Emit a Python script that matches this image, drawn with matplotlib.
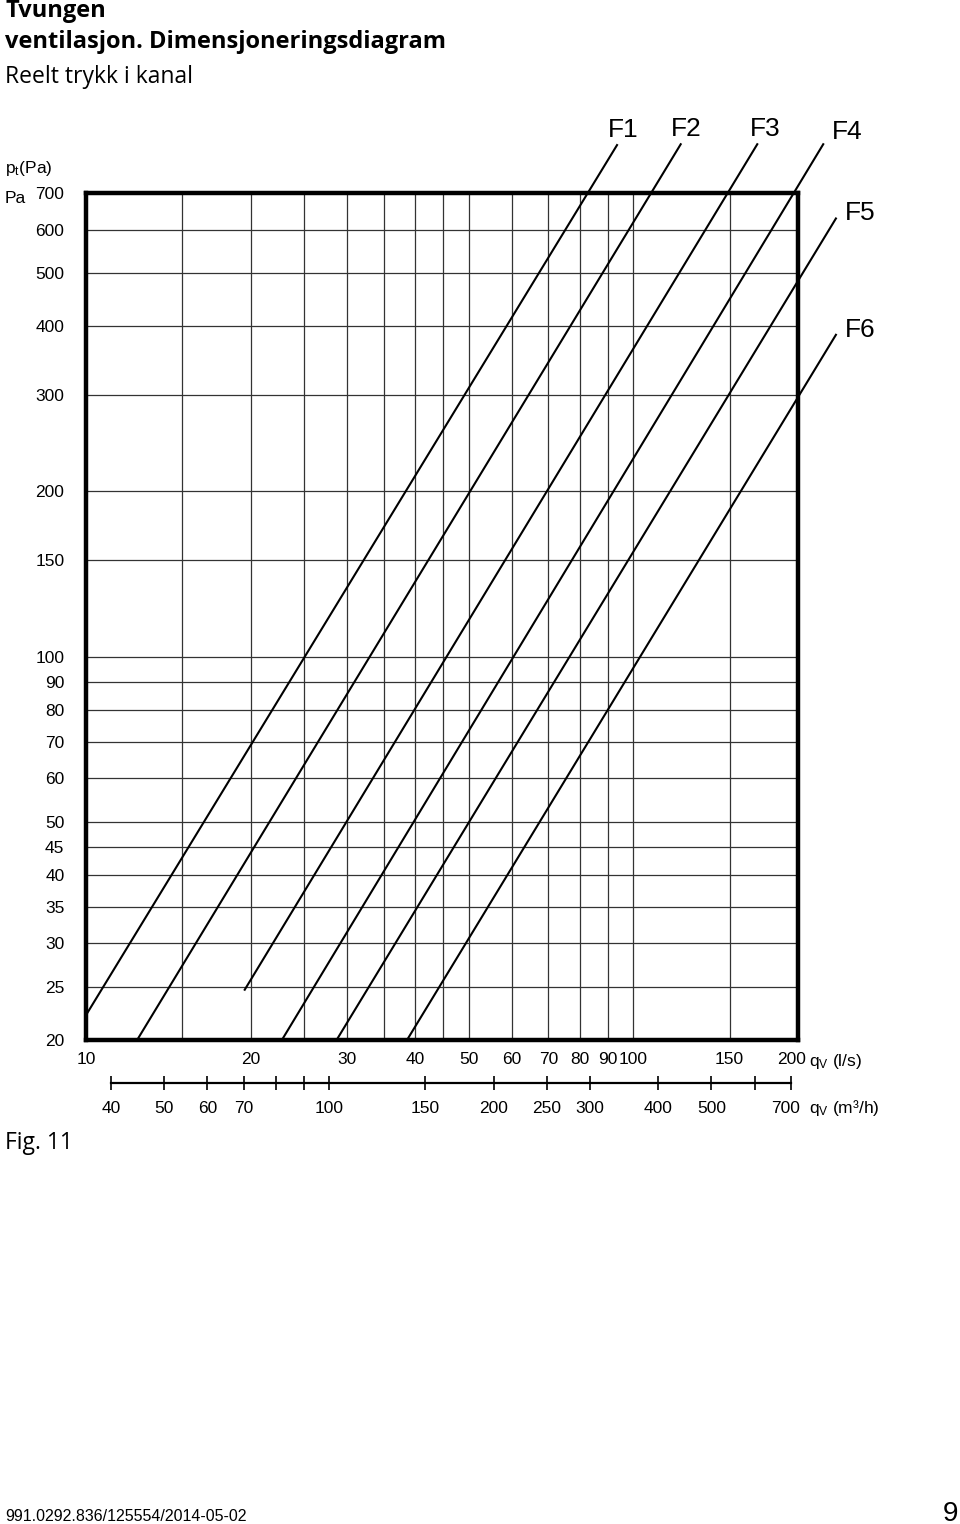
import matplotlib
matplotlib.use('Agg')
import matplotlib.pyplot as plt
from matplotlib.ticker import NullLocator
from matplotlib.transforms import ScaledTranslation

plt.rcParams['font.family'] = ['Liberation Sans', 'DejaVu Sans']
plt.rcParams['mathtext.default'] = 'regular'

# fan curves: end points (q in l/s, p in Pa)
curve_names = ['F1', 'F2', 'F3', 'F4', 'F5', 'F6']
q_start = [10.0, 12.4, 19.5, 22.8, 28.7, 38.6]
p_start = [22.2, 20.0, 24.7, 20.0, 20.0, 20.0]
q_end = [93.4, 122.1, 168.5, 222.4, 234.6, 234.6]
p_end = [856, 859, 859, 859, 629, 386]

# grid and tick values
q_grid = [15, 20, 25, 30, 35, 40, 45, 50, 60, 70, 80, 90, 100, 150]
p_grid = [25, 30, 35, 40, 45, 50, 60, 70, 80, 90, 100, 150, 200, 300, 400, 500, 600]
q_labels = [10, 20, 30, 40, 50, 60, 70, 80, 90, 100, 150, 200]
p_labels = [20, 25, 30, 35, 40, 45, 50, 60, 70, 80, 90, 100, 150, 200, 300, 400, 500, 600, 700]
m3h_ticks = [40, 50, 60, 70, 80, 90, 100, 150, 200, 250, 300, 400, 500, 600, 700]
m3h_labels = ['40', '50', '60', '70', '', '', '100', '150', '200', '250', '300', '400', '500', '', '700']

# label offsets from the upper end of each curve (pixels)
label_offsets = [(6, 15), (6, 15), (8, 15), (24, 12), (24, 5), (24, 5)]

W, H = 960, 1524
HEAD = ['Open Sans', 'DejaVu Sans']
TS = 12.5


def fx(x):
    return x / W


def fy(y):
    return 1 - y / H


fig = plt.figure(figsize=(W / 100, H / 100), dpi=100)

ax = fig.add_axes([fx(86), fy(1040), (798 - 86) / W, (1040 - 193) / H])
ax.set_xscale('log')
ax.set_yscale('log')
ax.set_xlim(10, 200)
ax.set_ylim(20, 700)

for q in q_grid:
    ax.axvline(q, color='#333333', lw=0.9, zorder=1)
for p in p_grid:
    ax.axhline(p, color='#333333', lw=0.9, zorder=1)

for name, qs, ps, qe, pe, off in zip(curve_names, q_start, p_start, q_end, p_end, label_offsets):
    ax.plot([qs, qe], [ps, pe], color='black', lw=1.5, clip_on=False, zorder=3)
    ax.annotate(name, (qe, pe), xytext=off, textcoords='offset pixels',
                ha='center', va='center', fontsize=19, annotation_clip=False)

ax.xaxis.set_minor_locator(NullLocator())
ax.yaxis.set_minor_locator(NullLocator())
ax.set_xticks(q_labels)
ax.set_xticklabels([str(v) for v in q_labels])
ax.set_yticks(p_labels)
ax.set_yticklabels([str(v) for v in p_labels])
ax.tick_params(axis='x', length=0, pad=8.5, labelsize=TS)
ax.tick_params(axis='y', length=0, pad=15.5, labelsize=TS)
for s in ax.spines.values():
    s.set_linewidth(3.2)
    s.set_zorder(4)

# second flow scale in m3/h
ax2 = fig.add_axes([fx(86), fy(1083), (798 - 86) / W, 0.0001])
ax2.set_xscale('log')
ax2.set_xlim(10 * 3.6, 200 * 3.6)
ax2.patch.set_visible(False)
for side in ['top', 'left', 'right']:
    ax2.spines[side].set_visible(False)
ax2.spines['bottom'].set_bounds(40, 700)
ax2.spines['bottom'].set_linewidth(1.6)
ax2.set_yticks([])
ax2.xaxis.set_minor_locator(NullLocator())
ax2.set_xticks(m3h_ticks)
ax2.set_xticklabels(m3h_labels)
ax2.tick_params(axis='x', direction='inout', length=10, width=1.2, pad=8, labelsize=TS)

# last labels on both scales sit a little left of their ticks
fig.canvas.draw()
shift = ScaledTranslation(-6 / 100, 0, fig.dpi_scale_trans)
for lab in (ax.get_xticklabels()[-1], ax2.get_xticklabels()[-1]):
    lab.set_transform(lab.get_transform() + shift)

# texts
fig.text(fx(5), fy(17), 'Tvungen', fontsize=17, fontweight='bold', va='baseline', family=HEAD)
fig.text(fx(5), fy(48), 'ventilasjon. Dimensjoneringsdiagram', fontsize=17, fontweight='bold',
         va='baseline', family=HEAD)
fig.text(fx(5), fy(83), 'Reelt trykk i kanal', fontsize=16.5, va='baseline', family=HEAD)
fig.text(fx(5), fy(172.7), 'p$_t$(Pa)', fontsize=TS, va='baseline')
fig.text(fx(5), fy(203), 'Pa', fontsize=TS, va='baseline')
fig.text(fx(809), fy(1066), 'q$_V$ (l/s)', fontsize=TS, va='baseline')
fig.text(fx(809), fy(1113), 'q$_V$ (m³/h)', fontsize=TS, va='baseline')
fig.text(fx(5), fy(1149), 'Fig. 11', fontsize=16.5, va='baseline', family=HEAD)
fig.text(fx(5), fy(1521), '991.0292.836/125554/2014-05-02', fontsize=11.5, va='baseline')
fig.text(fx(958), fy(1521), '9', fontsize=20, ha='right', va='baseline')

fig.savefig('out.png', dpi=100, facecolor='white')
